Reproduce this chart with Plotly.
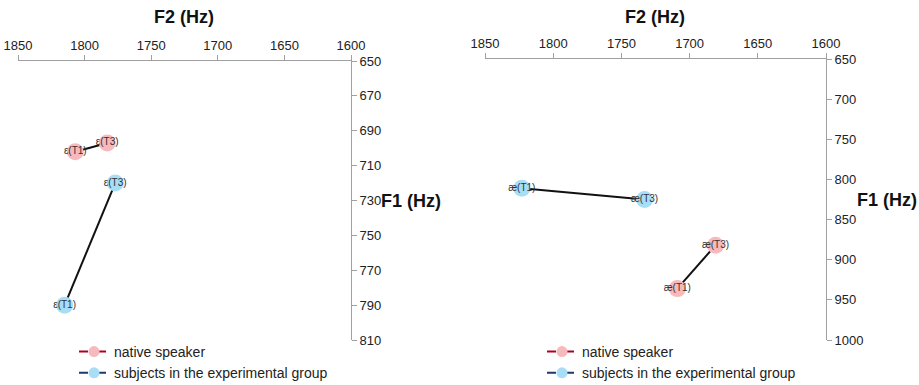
import plotly.graph_objects as go

# Left panel: vowel ε
e_labels = ["ε(T1)", "ε(T3)"]
e_native_f2 = [1807, 1783]
e_native_f1 = [702, 697]
e_subj_f2 = [1815, 1777]
e_subj_f1 = [790, 720]

# Right panel: vowel æ
ae_labels = ["æ(T1)", "æ(T3)"]
ae_native_f2 = [1709, 1681]
ae_native_f1 = [936, 882]
ae_subj_f2 = [1823, 1733]
ae_subj_f1 = [811, 825]

left_f1_ticks = [650, 670, 690, 710, 730, 750, 770, 790, 810]
right_f1_ticks = [650, 700, 750, 800, 850, 900, 950, 1000]
f2_ticks = [1850, 1800, 1750, 1700, 1650, 1600]

series_names = ["native speaker", "subjects in the experimental group"]

PINK = "#F7B9BC"
BLUE = "#A8DDF6"
DARK_RED = "#B0001E"
DARK_BLUE = "#1E3A6B"
FONT = "Liberation Sans, Arial, sans-serif"

W, H = 919, 385


def px(x):
    return x / W


def py(y):
    return 1 - y / H


fig = go.Figure()


def add_panel(xa, ya, labels, nf2, nf1, sf2, sf1, legend):
    # connecting lines (drawn first so markers sit on top)
    for f2, f1 in ((nf2, nf1), (sf2, sf1)):
        fig.add_trace(go.Scatter(x=f2, y=f1, mode="lines", xaxis=xa, yaxis=ya,
                                 line=dict(color="#111111", width=2),
                                 showlegend=False, hoverinfo="skip"))
    for f2, f1, name, fill, lc in ((nf2, nf1, series_names[0], PINK, DARK_RED),
                                   (sf2, sf1, series_names[1], BLUE, DARK_BLUE)):
        fig.add_trace(go.Scatter(
            x=f2, y=f1, mode="markers+text", xaxis=xa, yaxis=ya,
            text=labels, textposition="middle center",
            textfont=dict(size=10, color="#333333", family=FONT),
            marker=dict(size=17, color=fill, line=dict(width=0)),
            showlegend=False))
        # legend-only entry
        fig.add_trace(go.Scatter(
            x=[None], y=[None], mode="lines+markers", xaxis=xa, yaxis=ya,
            name=name, legend=legend,
            line=dict(color=lc, width=2, dash="dash"),
            marker=dict(size=11, color=fill)))


add_panel("x", "y", e_labels, e_native_f2, e_native_f1, e_subj_f2, e_subj_f1, "legend")
add_panel("x2", "y2", ae_labels, ae_native_f2, ae_native_f1, ae_subj_f2, ae_subj_f1, "legend2")

axis_common = dict(showgrid=False, zeroline=False, showline=True, automargin=False,
                   linecolor="#A0A0A0", linewidth=1, ticks="outside",
                   ticklen=5, tickcolor="#A0A0A0",
                   tickfont=dict(size=13, color="#222222", family=FONT))

legend_common = dict(xanchor="left", yanchor="top",
                     font=dict(size=14, color="#222222", family=FONT),
                     itemwidth=30, tracegroupgap=0, bgcolor="rgba(0,0,0,0)")

title_font = dict(size=18, color="#111111", family=FONT)

fig.update_layout(
    width=W, height=H,
    margin=dict(l=0, r=0, t=0, b=0, autoexpand=False),
    paper_bgcolor="white", plot_bgcolor="white",
    xaxis=dict(domain=[px(18), px(351)], range=[1850, 1600], side="top",
               tickvals=f2_ticks, anchor="y", **axis_common),
    yaxis=dict(domain=[py(340), py(61)], range=[810, 650], side="right",
               tickvals=left_f1_ticks, anchor="x", **axis_common),
    xaxis2=dict(domain=[px(485), px(826)], range=[1850, 1600], side="top",
                tickvals=f2_ticks, anchor="y2", **axis_common),
    yaxis2=dict(domain=[py(340), py(59)], range=[1000, 650], side="right",
                tickvals=right_f1_ticks, anchor="x2", **axis_common),
    legend=dict(x=px(74), y=py(336), **legend_common),
    legend2=dict(x=px(542), y=py(336), **legend_common),
    annotations=[
        dict(text="<b>F2 (Hz)</b>", x=px(184), y=py(17), xref="paper", yref="paper",
             xanchor="center", yanchor="middle", showarrow=False, font=title_font),
        dict(text="<b>F2 (Hz)</b>", x=px(655), y=py(17), xref="paper", yref="paper",
             xanchor="center", yanchor="middle", showarrow=False, font=title_font),
        dict(text="<b>F1 (Hz)</b>", x=px(411), y=py(201), xref="paper", yref="paper",
             xanchor="center", yanchor="middle", showarrow=False, font=title_font),
        dict(text="<b>F1 (Hz)</b>", x=px(887), y=py(200), xref="paper", yref="paper",
             xanchor="center", yanchor="middle", showarrow=False, font=title_font),
    ],
)

fig.write_html("out.html", config={"displayModeBar": False},
               post_script="document.body.style.margin='0';document.body.style.overflow='hidden';")
